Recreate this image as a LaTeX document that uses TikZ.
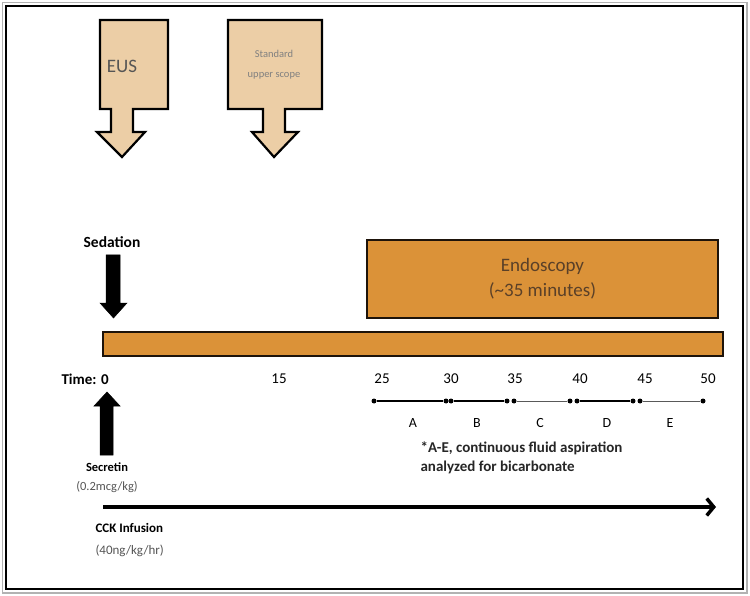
\documentclass[tikz,border=0pt]{standalone}
\usepackage{fontspec}
\setmainfont{Carlito}
\usetikzlibrary{arrows.meta,calc}
\definecolor{tan}{RGB}{236,206,166}
\definecolor{ochre}{RGB}{219,146,56}
\definecolor{txtgray}{RGB}{85,85,85}
\definecolor{brn}{RGB}{90,64,40}
\tikzstyle{callout} = [draw=black,line width=2.2pt,fill=tan,line join=miter]
\tikzstyle{bar} = [rectangle,draw=black!85!brown,line width=1.8pt,fill=ochre,inner sep=0pt]
\tikzstyle{blk} = [fill=black,draw=black,line width=0.5pt]
\tikzstyle{tick} = [font=\fontsize{15}{17}\selectfont]
\tikzstyle{lbl} = [font=\fontsize{14}{17}\selectfont]
\tikzstyle{dot} = [circle,fill=black,inner sep=0pt,minimum size=5pt]
\tikzstyle{note} = [font=\fontsize{12.5}{19}\selectfont,align=center]

\begin{document}
\begin{tikzpicture}[x=1pt,y=-1pt]
  \useasboundingbox (0,0) rectangle (750,596);
  \fill[white] (0,0) rectangle (750,596);
  \draw[gray!60,line width=1.5pt] (2.5,2.5) rectangle (747,593);
  \draw[black,line width=2.5pt] (6,6) rectangle (743,589);

  % procedures on top
  \draw[callout] (100,20) -- (168,20) -- (168,109) -- (133,109) -- (133,132) -- (145,132)
    -- (122,157) -- (97,132) -- (111,132) -- (111,109) -- (100,109) -- cycle;
  \node[font=\fontsize{19}{22}\selectfont,text=txtgray](eus) at (122,66) {EUS};
  \draw[callout] (228,20) -- (322,20) -- (322,109) -- (285,109) -- (285,132) -- (298,132)
    -- (274,157) -- (252,132) -- (263,132) -- (263,109) -- (228,109) -- cycle;
  \node[font=\fontsize{10.5}{20}\selectfont,text=gray,align=center](usc) at (274,65) {Standard\\upper scope};

  % sedation
  \node[font=\fontsize{15.5}{18}\selectfont\bfseries](sed) at (112,242) {Sedation};
  \draw[blk] (106,255) -- (120,255) -- (120,303) -- (127,303) -- (113.5,318) -- (100,303)
    -- (106,303) -- cycle;

  % endoscopy and timeline bar
  \node[bar,minimum width=351pt,minimum height=78pt,align=center,text=brn,
    font=\fontsize{19}{25}\selectfont](endo) at (542.5,279) {Endoscopy\\(\textasciitilde35 minutes)};
  \node[bar,minimum width=620pt,minimum height=24pt](tl) at (413,344) {};

  % time axis
  \node[tick,font=\fontsize{15}{17}\selectfont\bfseries,anchor=west](t0) at (58,379) {Time: 0};
  \node[tick](t15) at (279,379) {15};
  \foreach \x/\t in {382/25,451/30,515/35,580/40,645/45,708/50}
    \node[tick](t\t) at (\x,379) {\t};

  % aspiration periods
  \foreach \x [count=\i] in {374,446,451,507,514,570,577,633,640,703}
    \node[dot](d\i) at (\x,401) {};
  \draw[line width=1.6pt] (d1) -- (d2);
  \draw[line width=1.6pt] (d3) -- (d4);
  \draw[line width=1pt,black!65] (d5) -- (d6);
  \draw[line width=1.6pt] (d7) -- (d8);
  \draw[line width=1pt,black!65] (d9) -- (d10);
  \foreach \x/\l in {413/A,477/B,540/C,607/D,670/E}
    \node[lbl](p\l) at (\x,423) {\l};
  \node[font=\fontsize{15}{19}\selectfont\bfseries,align=left,anchor=north west,text=black!85](asp)
    at (417,438) {*A-E, continuous fluid aspiration\\analyzed for bicarbonate};

  % secretin
  \draw[blk] (100,455) -- (113,455) -- (113,406) -- (120,406) -- (107,392) -- (94,406)
    -- (100,406) -- cycle;
  \node[note](sec) at (107,478) {\textbf{Secretin}\\\textcolor{txtgray}{(0.2mcg/kg)}};

  % CCK infusion
  \coordinate (cs) at (103,507);
  \coordinate (ce) at (716,507);
  \draw[line width=3.5pt,-{Straight Barb[length=7pt,width=17pt]}] (cs) -- (ce);
  \node[note,font=\fontsize{13}{22}\selectfont,align=left,anchor=north west](cck) at (92,520)
    {\textbf{CCK Infusion}\\\textcolor{txtgray}{(40ng/kg/hr)}};
\end{tikzpicture}
\end{document}
